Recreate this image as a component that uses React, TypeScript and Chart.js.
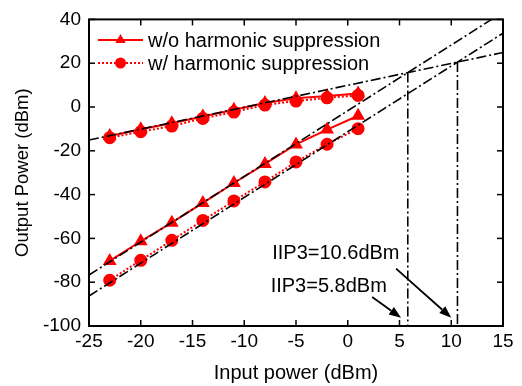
import React, { useEffect, useRef } from 'react';
import { Chart, registerables } from 'chart.js';

Chart.register(...registerables);

// ---- data ----
const inputPower = [-23, -20, -17, -14, -11, -8, -5, -2, 1];
const fundWo = [-13.2, -10.2, -7.4, -4.3, -1.3, 1.8, 4.0, 5.0, 6.2];
const fundW = [-14.0, -11.3, -8.7, -5.2, -2.3, 0.9, 2.7, 4.2, 5.3];
const im3Wo = [-70.3, -61.3, -52.8, -43.8, -34.7, -26.0, -17.1, -10.3, -4.0];
const im3W = [-79.1, -70.0, -60.9, -51.8, -42.9, -34.2, -25.1, -17.0, -9.9];

const fitX = [-25, 15];
const fitFund = [-15.1, 24.9];
const fitIm3Wo = [-76.7, 43.3];
const fitIm3W = [-86.3, 33.7];

const iip3X = [5.8, 10.6];
const iip3Y = [15.7, 20.5];
const iip3Labels = ['IIP3=5.8dBm', 'IIP3=10.6dBm'];
// label anchor (data units) and arrow start/end (data units)
const labelPosX = [-7.45, -7.3];
const labelPosY = [-82, -67];
const arrowFromX = [2.36, 4.67];
const arrowFromY = [-86.8, -73.8];
const arrowToX = [5.15, 10.0];
const arrowToY = [-96.2, -96.2];

const xTicks = [-25, -20, -15, -10, -5, 0, 5, 10, 15];
const yTicks = [-100, -80, -60, -40, -20, 0, 20, 40];

const seriesNames = ['w/o harmonic suppression', 'w/ harmonic suppression'];

const FONT = "'Liberation Sans', Arial, sans-serif";
const RED = '#ff0000';
const DASHDOT = [10, 3, 2, 3];

const pts = (xs: number[], ys: number[]) => xs.map((v, i) => ({ x: v, y: ys[i] }));

const overlay = {
  id: 'overlay',
  afterDraw(chart: any) {
    const { ctx, chartArea: a, scales } = chart;
    const x = scales.x;
    const y = scales.y;
    ctx.save();
    const seg = (x1: number, y1: number, x2: number, y2: number) => {
      ctx.beginPath();
      ctx.moveTo(x1, y1);
      ctx.lineTo(x2, y2);
      ctx.stroke();
    };
    // inward ticks
    ctx.strokeStyle = '#000';
    ctx.lineWidth = 1.5;
    ctx.setLineDash([]);
    const tl = 6;
    xTicks.forEach((v) => {
      const px = x.getPixelForValue(v);
      seg(px, a.bottom, px, a.bottom - tl);
      seg(px, a.top, px, a.top + tl);
    });
    yTicks.forEach((v) => {
      const py = y.getPixelForValue(v);
      seg(a.left, py, a.left + tl, py);
      seg(a.right, py, a.right - tl, py);
    });
    // frame
    ctx.lineWidth = 2;
    ctx.strokeRect(a.left, a.top, a.right - a.left, a.bottom - a.top);

    // legend
    const lx0 = a.left + 9;
    const lx1 = a.left + 54;
    const rows = [40, 63];
    ctx.strokeStyle = RED;
    ctx.fillStyle = RED;
    ctx.lineWidth = 2;
    rows.forEach((ry, i) => {
      ctx.setLineDash(i === 0 ? [] : [2, 2]);
      seg(lx0, ry, lx1, ry);
      ctx.setLineDash([]);
      const cx = (lx0 + lx1) / 2;
      ctx.beginPath();
      if (i === 0) {
        const r = 6;
        ctx.moveTo(cx, ry - r);
        ctx.lineTo(cx + r * 0.866, ry + r * 0.5);
        ctx.lineTo(cx - r * 0.866, ry + r * 0.5);
        ctx.closePath();
      } else {
        ctx.arc(cx, ry, 5.5, 0, Math.PI * 2);
      }
      ctx.fill();
    });
    ctx.fillStyle = '#000';
    ctx.font = `20px ${FONT}`;
    ctx.textBaseline = 'middle';
    ctx.textAlign = 'left';
    rows.forEach((ry, i) => ctx.fillText(seriesNames[i], lx1 + 5, ry + 1));

    // annotations
    ctx.font = `20px ${FONT}`;
    iip3Labels.forEach((t, i) => {
      ctx.fillText(t, x.getPixelForValue(labelPosX[i]), y.getPixelForValue(labelPosY[i]));
    });
    // arrows
    ctx.strokeStyle = '#000';
    ctx.lineWidth = 1.8;
    arrowFromX.forEach((_, i) => {
      const x1 = x.getPixelForValue(arrowFromX[i]);
      const y1 = y.getPixelForValue(arrowFromY[i]);
      const x2 = x.getPixelForValue(arrowToX[i]);
      const y2 = y.getPixelForValue(arrowToY[i]);
      const ang = Math.atan2(y2 - y1, x2 - x1);
      const hl = 12;
      const hw = 4.5;
      const bx = x2 - hl * Math.cos(ang);
      const by = y2 - hl * Math.sin(ang);
      seg(x1, y1, bx, by);
      ctx.beginPath();
      ctx.moveTo(x2, y2);
      ctx.lineTo(bx + hw * Math.sin(ang), by - hw * Math.cos(ang));
      ctx.lineTo(bx - hw * Math.sin(ang), by + hw * Math.cos(ang));
      ctx.closePath();
      ctx.fill();
    });
    ctx.restore();
  },
};

export default function App() {
  const ref = useRef<HTMLCanvasElement | null>(null);
  useEffect(() => {
    if (!ref.current) return;
    const black = (data: any) => ({
      data,
      showLine: true,
      borderColor: '#000',
      borderWidth: 1.6,
      borderDash: DASHDOT,
      pointRadius: 0,
      fill: false,
    });
    const chart = new Chart(ref.current, {
      type: 'scatter',
      data: {
        datasets: [
          black(pts(fitX, fitFund)),
          black(pts(fitX, fitIm3Wo)),
          black(pts(fitX, fitIm3W)),
          black([{ x: iip3X[0], y: iip3Y[0] }, { x: iip3X[0], y: -100 }]),
          black([{ x: iip3X[1], y: iip3Y[1] }, { x: iip3X[1], y: -100 }]),
          {
            label: seriesNames[0],
            data: pts(inputPower, fundWo),
            showLine: true,
            borderColor: RED,
            backgroundColor: RED,
            borderWidth: 2,
            pointStyle: 'triangle',
            pointRadius: 6,
          },
          {
            label: seriesNames[0],
            data: pts(inputPower, im3Wo),
            showLine: true,
            borderColor: RED,
            backgroundColor: RED,
            borderWidth: 2,
            pointStyle: 'triangle',
            pointRadius: 6,
          },
          {
            label: seriesNames[1],
            data: pts(inputPower, fundW),
            showLine: true,
            borderColor: RED,
            backgroundColor: RED,
            borderWidth: 2,
            borderDash: [2, 2],
            pointStyle: 'circle',
            pointRadius: 5.5,
          },
          {
            label: seriesNames[1],
            data: pts(inputPower, im3W),
            showLine: true,
            borderColor: RED,
            backgroundColor: RED,
            borderWidth: 2,
            borderDash: [2, 2],
            pointStyle: 'circle',
            pointRadius: 5.5,
          },
        ],
      },
      options: {
        animation: false,
        responsive: false,
        devicePixelRatio: 1,
        layout: { padding: { top: 19, right: 19, left: 0, bottom: 0 } },
        plugins: { legend: { display: false }, tooltip: { enabled: false } },
        scales: {
          x: {
            type: 'linear',
            min: -25,
            max: 15,
            afterBuildTicks: (s: any) => {
              s.ticks = xTicks.map((v) => ({ value: v }));
            },
            afterFit: (s: any) => {
              s.height = 60;
            },
            grid: { display: false, drawTicks: false },
            border: { display: false },
            ticks: { color: '#000', font: { family: FONT, size: 19 }, padding: 4, maxRotation: 0, autoSkip: false },
            title: {
              display: true,
              text: 'Input power (dBm)',
              color: '#000',
              font: { family: FONT, size: 20 },
              padding: { top: 0, bottom: 1 },
            },
          },
          y: {
            type: 'linear',
            min: -100,
            max: 40,
            afterBuildTicks: (s: any) => {
              s.ticks = yTicks.map((v) => ({ value: v }));
            },
            afterFit: (s: any) => {
              s.width = 89;
            },
            grid: { display: false, drawTicks: false },
            border: { display: false },
            ticks: { color: '#000', font: { family: FONT, size: 19 }, padding: 8, autoSkip: false },
            title: {
              display: true,
              text: 'Output Power (dBm)',
              color: '#000',
              font: { family: FONT, size: 18.5 },
              padding: { top: 12, bottom: 0 },
            },
          },
        },
      },
      plugins: [overlay],
    } as any);
    return () => chart.destroy();
  }, []);
  return (
    <div style={{ position: 'fixed', left: 0, top: 0, width: 522, height: 386, background: '#fff' }}>
      <canvas ref={ref} width={522} height={386} />
    </div>
  );
}
